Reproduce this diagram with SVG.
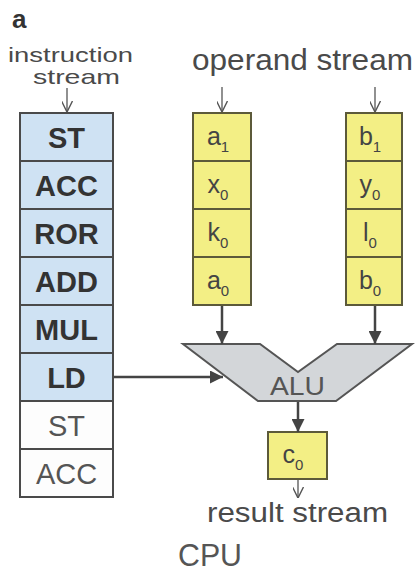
<svg xmlns="http://www.w3.org/2000/svg" width="415" height="572" viewBox="0 0 415 572">
<defs>
<style>
text{font-family:"Liberation Sans",Arial,sans-serif}
.lbl{fill:#4a4a4a}
.ib{font-weight:bold;font-size:29px;fill:#333;text-anchor:middle}
.ir{font-size:29px;fill:#555;text-anchor:middle}
.op{font-size:25px;fill:#444;text-anchor:middle}
.blue{fill:#cfe2f3;stroke:#4a4a4a;stroke-width:2}
.white{fill:#fdfdfd;stroke:#4a4a4a;stroke-width:2}
.yel{fill:#f3ef85;stroke:#5c5a3a;stroke-width:2}
.fl{stroke:#444;stroke-width:2.5;fill:none}
.ol{stroke:#555;stroke-width:1.3;fill:none}
</style>
<marker id="fa" viewBox="0 0 10 10" refX="10" refY="5" markerWidth="13" markerHeight="13" markerUnits="userSpaceOnUse" orient="auto">
<path d="M0,0 L10,5 L0,10 z" fill="#444"/>
</marker>
<marker id="oa" viewBox="0 0 10 10" refX="10" refY="5" markerWidth="11" markerHeight="11" markerUnits="userSpaceOnUse" orient="auto">
<path d="M0,0 L10,5 L0,10" fill="none" stroke="#555" stroke-width="1.3"/>
</marker>
</defs>
<rect width="415" height="572" fill="#ffffff"/>

<g id="labels">
<text x="12" y="28" font-size="26" font-weight="bold" fill="#333">a</text>
<text x="8" y="62" font-size="21" class="lbl" textLength="125" lengthAdjust="spacingAndGlyphs">instruction</text>
<text x="33" y="84" font-size="21" class="lbl" textLength="87" lengthAdjust="spacingAndGlyphs">stream</text>
<text x="192" y="70" font-size="29" class="lbl" textLength="221" lengthAdjust="spacingAndGlyphs">operand stream</text>
<text x="207" y="522" font-size="27" class="lbl" textLength="181" lengthAdjust="spacingAndGlyphs">result stream</text>
<text x="178" y="566" font-size="31" fill="#555" textLength="64" lengthAdjust="spacingAndGlyphs">CPU</text>
</g>

<g id="instruction-stream">
<rect class="blue" x="20" y="113" width="93" height="48"/>
<text class="ib" x="66.5" y="148">ST</text>
<rect class="blue" x="20" y="161" width="93" height="48"/>
<text class="ib" x="66.5" y="196">ACC</text>
<rect class="blue" x="20" y="209" width="93" height="48"/>
<text class="ib" x="66.5" y="244">ROR</text>
<rect class="blue" x="20" y="257" width="93" height="48"/>
<text class="ib" x="66.5" y="292">ADD</text>
<rect class="blue" x="20" y="305" width="93" height="48"/>
<text class="ib" x="66.5" y="340">MUL</text>
<rect class="blue" x="20" y="353" width="93" height="48"/>
<text class="ib" x="66.5" y="388">LD</text>
<rect class="white" x="20" y="401" width="93" height="48"/>
<text class="ir" x="66.5" y="436">ST</text>
<rect class="white" x="20" y="449" width="93" height="48"/>
<text class="ir" x="66.5" y="484">ACC</text>
</g>

<g id="operand-a">
<rect class="yel" x="193" y="113" width="58" height="48"/>
<text class="op" x="218" y="145">a<tspan font-size="15" dy="7">1</tspan></text>
<rect class="yel" x="193" y="161" width="58" height="48"/>
<text class="op" x="218" y="193">x<tspan font-size="15" dy="7">0</tspan></text>
<rect class="yel" x="193" y="209" width="58" height="48"/>
<text class="op" x="218" y="241">k<tspan font-size="15" dy="7">0</tspan></text>
<rect class="yel" x="193" y="257" width="58" height="48"/>
<text class="op" x="218" y="289">a<tspan font-size="15" dy="7">0</tspan></text>
</g>

<g id="operand-b">
<rect class="yel" x="346" y="113" width="56" height="48"/>
<text class="op" x="370" y="145">b<tspan font-size="15" dy="7">1</tspan></text>
<rect class="yel" x="346" y="161" width="56" height="48"/>
<text class="op" x="370" y="193">y<tspan font-size="15" dy="7">0</tspan></text>
<rect class="yel" x="346" y="209" width="56" height="48"/>
<text class="op" x="370" y="241">l<tspan font-size="15" dy="7">0</tspan></text>
<rect class="yel" x="346" y="257" width="56" height="48"/>
<text class="op" x="370" y="289">b<tspan font-size="15" dy="7">0</tspan></text>
</g>

<g id="alu">
<polygon points="183,344 260,344 298,372 337,344 412,344 336,401 258,401" fill="#d3d6d9" stroke="#555" stroke-width="2" stroke-linejoin="miter"/>
<text x="270" y="395" font-size="26" fill="#555" textLength="55" lengthAdjust="spacingAndGlyphs">ALU</text>
</g>

<g id="result">
<rect class="yel" x="268" y="432" width="59" height="47"/>
<text class="op" x="293" y="463">c<tspan font-size="15" dy="7">0</tspan></text>
</g>

<g id="connectors">
<line class="ol" x1="67" y1="88" x2="67" y2="112" marker-end="url(#oa)"/>
<line class="ol" x1="222" y1="87" x2="222" y2="112" marker-end="url(#oa)"/>
<line class="ol" x1="375" y1="87" x2="375" y2="112" marker-end="url(#oa)"/>
<line class="fl" x1="222" y1="306" x2="222" y2="344" marker-end="url(#fa)"/>
<line class="fl" x1="375" y1="306" x2="375" y2="344" marker-end="url(#fa)"/>
<line class="fl" x1="114" y1="377" x2="223" y2="377" marker-end="url(#fa)"/>
<line class="fl" x1="298" y1="402" x2="298" y2="432" marker-end="url(#fa)"/>
<line class="ol" x1="298" y1="480" x2="298" y2="498" marker-end="url(#oa)"/>
</g>
</svg>
